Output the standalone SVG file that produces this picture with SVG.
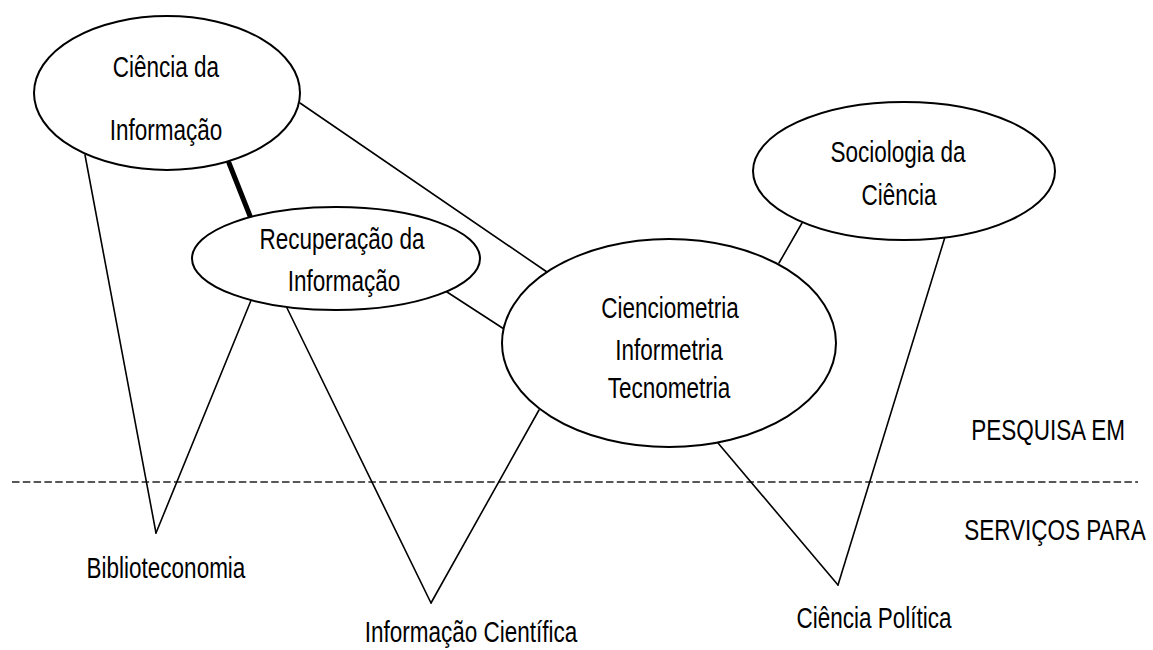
<svg xmlns="http://www.w3.org/2000/svg" width="1153" height="650" viewBox="0 0 1153 650">
  <style>
    .node ellipse { fill: #fff; stroke: #000; stroke-width: 2; }
    .link { stroke: #000; stroke-width: 1.6; fill: none; stroke-linecap: round; }
    .strong { stroke: #000; stroke-width: 5; }
    .divider { stroke: #222; stroke-width: 1.6; stroke-dasharray: 7.5 3.3; }
    text { font-family: "Liberation Sans", Arial, sans-serif; font-size: 30px; fill: #000; text-anchor: middle; }
  </style>
  <rect width="1153" height="650" fill="#fff"/>

  <!-- boundary between research and services -->
  <line class="divider" x1="12" y1="482" x2="1138" y2="482"/>

  <g id="connectors">
    <line class="link" x1="300" y1="103" x2="547" y2="272"/>
    <line class="link strong" x1="229" y1="163" x2="250" y2="216"/>
    <line class="link" x1="447" y1="292" x2="504" y2="329"/>
    <line class="link" x1="85" y1="155" x2="156" y2="533"/>
    <line class="link" x1="252" y1="298" x2="156" y2="533"/>
    <line class="link" x1="287" y1="308" x2="431" y2="603"/>
    <line class="link" x1="539" y1="410" x2="431" y2="603"/>
    <line class="link" x1="718" y1="443" x2="838" y2="585"/>
    <line class="link" x1="945" y1="237" x2="838" y2="585"/>
    <line class="link" x1="802" y1="223" x2="779" y2="263"/>
  </g>

  <g id="ciencia-informacao" class="node">
    <ellipse cx="167" cy="93" rx="133" ry="77"/>
    <text transform="translate(166,77) scale(0.75,1)">Ciência da</text>
    <text transform="translate(166,140) scale(0.75,1)">Informação</text>
  </g>

  <g id="recuperacao-informacao" class="node">
    <ellipse cx="336" cy="258.5" rx="144" ry="51.5"/>
    <text transform="translate(342,249) scale(0.75,1)">Recuperação da</text>
    <text transform="translate(344,291) scale(0.75,1)">Informação</text>
  </g>

  <g id="cienciometria" class="node">
    <ellipse cx="669" cy="343" rx="167" ry="104"/>
    <text transform="translate(670,318) scale(0.75,1)">Cienciometria</text>
    <text transform="translate(669,360) scale(0.75,1)">Informetria</text>
    <text transform="translate(669,398) scale(0.75,1)">Tecnometria</text>
  </g>

  <g id="sociologia-ciencia" class="node">
    <ellipse cx="904" cy="171" rx="151" ry="69"/>
    <text transform="translate(898,162) scale(0.75,1)">Sociologia da</text>
    <text transform="translate(899,205) scale(0.75,1)">Ciência</text>
  </g>

  <g id="biblioteconomia">
    <text transform="translate(166,578) scale(0.75,1)">Biblioteconomia</text>
  </g>

  <g id="informacao-cientifica">
    <text transform="translate(471,642) scale(0.75,1)">Informação Científica</text>
  </g>

  <g id="ciencia-politica">
    <text transform="translate(874,628) scale(0.75,1)">Ciência Política</text>
  </g>

  <g id="zone-labels">
    <text transform="translate(1048,440) scale(0.75,1)">PESQUISA EM</text>
    <text transform="translate(1055,540) scale(0.75,1)">SERVIÇOS PARA</text>
  </g>
</svg>
